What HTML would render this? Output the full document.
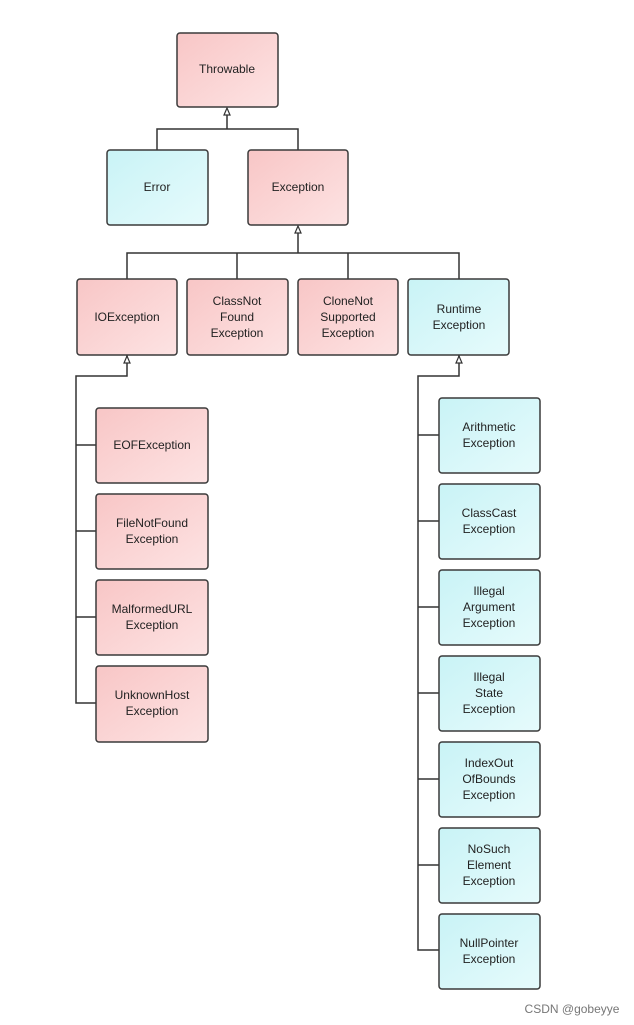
<!DOCTYPE html>
<html><head><meta charset="utf-8"><style>
html,body{margin:0;padding:0;background:#fff;}
svg{display:block;}
text{font-family:"Liberation Sans",sans-serif;font-size:12px;fill:#222;text-anchor:middle;}
</style></head><body>
<svg width="634" height="1025" viewBox="0 0 634 1025" xmlns="http://www.w3.org/2000/svg">
<defs>
<linearGradient id="p" x1="0" y1="0" x2="1" y2="1"><stop offset="0" stop-color="#f8c6c6"/><stop offset="1" stop-color="#fde3e3"/></linearGradient>
<linearGradient id="c" x1="0" y1="0" x2="1" y2="1"><stop offset="0" stop-color="#c9f3f6"/><stop offset="1" stop-color="#e6fbfc"/></linearGradient>
</defs>
<g fill="none" stroke="#333" stroke-width="1.5">
<path d="M157 150V129H298V150M227 129V110"/>
<path d="M127 279V253H459V279M237 253V279M348 253V279M298 253V228"/>
<path d="M459 355V376H418V950H439M418 435H439M418 521H439M418 607H439M418 693H439M418 779H439M418 865H439"/>
<path d="M127 355V376H76V703H96M76 445H96M76 531H96M76 617H96"/>
</g>
<g fill="#fff" stroke="#333" stroke-width="1.2">
<path d="M227 108l-3 7h6z"/>
<path d="M298 226l-3 7h6z"/>
<path d="M127 356l-3 7h6z"/>
<path d="M459 356l-3 7h6z"/>
</g>
<g stroke="#3a3a3a" stroke-width="1.5">
<rect x="177" y="33" width="101" height="74" rx="3" fill="url(#p)"/>
<rect x="107" y="150" width="101" height="75" rx="3" fill="url(#c)"/>
<rect x="248" y="150" width="100" height="75" rx="3" fill="url(#p)"/>
<rect x="77" y="279" width="100" height="76" rx="3" fill="url(#p)"/>
<rect x="187" y="279" width="101" height="76" rx="3" fill="url(#p)"/>
<rect x="298" y="279" width="100" height="76" rx="3" fill="url(#p)"/>
<rect x="408" y="279" width="101" height="76" rx="3" fill="url(#c)"/>
<rect x="96" y="408" width="112" height="75" rx="3" fill="url(#p)"/>
<rect x="96" y="494" width="112" height="75" rx="3" fill="url(#p)"/>
<rect x="96" y="580" width="112" height="75" rx="3" fill="url(#p)"/>
<rect x="96" y="666" width="112" height="76" rx="3" fill="url(#p)"/>
<rect x="439" y="398" width="101" height="75" rx="3" fill="url(#c)"/>
<rect x="439" y="484" width="101" height="75" rx="3" fill="url(#c)"/>
<rect x="439" y="570" width="101" height="75" rx="3" fill="url(#c)"/>
<rect x="439" y="656" width="101" height="75" rx="3" fill="url(#c)"/>
<rect x="439" y="742" width="101" height="75" rx="3" fill="url(#c)"/>
<rect x="439" y="828" width="101" height="75" rx="3" fill="url(#c)"/>
<rect x="439" y="914" width="101" height="75" rx="3" fill="url(#c)"/>
</g>
<text x="227" y="73">Throwable</text>
<text x="157" y="191">Error</text>
<text x="298" y="191">Exception</text>
<text x="127" y="321">IOException</text>
<text x="237" y="305">ClassNot</text><text x="237" y="321">Found</text><text x="237" y="337">Exception</text>
<text x="348" y="305">CloneNot</text><text x="348" y="321">Supported</text><text x="348" y="337">Exception</text>
<text x="459" y="313">Runtime</text><text x="459" y="329">Exception</text>
<text x="152" y="449">EOFException</text>
<text x="152" y="527">FileNotFound</text><text x="152" y="543">Exception</text>
<text x="152" y="613">MalformedURL</text><text x="152" y="629">Exception</text>
<text x="152" y="699">UnknownHost</text><text x="152" y="715">Exception</text>
<text x="489" y="431">Arithmetic</text><text x="489" y="447">Exception</text>
<text x="489" y="517">ClassCast</text><text x="489" y="533">Exception</text>
<text x="489" y="595">Illegal</text><text x="489" y="611">Argument</text><text x="489" y="627">Exception</text>
<text x="489" y="681">Illegal</text><text x="489" y="697">State</text><text x="489" y="713">Exception</text>
<text x="489" y="767">IndexOut</text><text x="489" y="783">OfBounds</text><text x="489" y="799">Exception</text>
<text x="489" y="853">NoSuch</text><text x="489" y="869">Element</text><text x="489" y="885">Exception</text>
<text x="489" y="947">NullPointer</text><text x="489" y="963">Exception</text>
<text x="572" y="1013" style="fill:#777;font-size:12px">CSDN @gobeyye</text>
</svg>
</body></html>
